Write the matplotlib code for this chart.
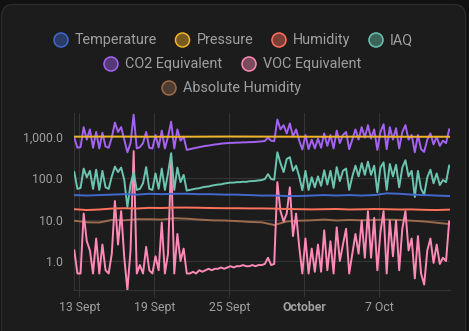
import numpy as np
import matplotlib
matplotlib.use("Agg")
from matplotlib import pyplot as plt
from matplotlib.patches import Circle, FancyBboxPatch
import matplotlib.dates as mdates

plt.rcParams['font.family'] = ['Roboto', 'DejaVu Sans']

# fast sensors, one reading every 6 hours from 12 Sept 14:24
voc = [1.8, 0.5, 0.5, 14, 3.0, 1.8, 0.5, 3.5, 0.5, 2.5, 0.6, 0.5, 1.5, 28, 2.5, 16, 1.2, 0.2,
       1.8, 450, 0.5, 0.8, 0.5, 2.2, 0.6, 0.5, 1.3, 0.6, 8.5, 0.5, 1.5, 280, 0.5, 4.5, 1.0, 2.0,
       0.5, 0.5, 0.55, 0.5, 0.6, 0.55, 0.6, 0.65, 0.6, 0.65, 0.65, 0.7, 0.65, 0.7, 0.75, 0.7,
       0.75, 0.75, 0.8, 0.75, 0.75, 0.8, 0.75, 0.8, 0.8, 0.85, 1.2, 0.8, 0.85,
       80, 16, 9, 14, 60, 4, 14, 2.2, 0.5, 3.5, 0.5, 2.0, 0.55, 2.5, 0.55, 5.5, 0.6, 3.0, 0.5,
       6.5, 1.0, 2.5, 6.0, 0.5, 1.5, 4.5, 1.5, 9.5, 1.2, 16, 1.2, 11, 0.6, 5, 16, 0.5, 9.5, 1.3,
       9.5, 0.6, 6, 16, 1.8, 3.5, 0.38, 4, 0.5, 0.27, 1.8, 3.5, 0.9, 2.5, 0.85, 1.2, 1.0, 9]
iaq = [140, 55, 58, 170, 105, 150, 55, 160, 52, 150, 60, 55, 110, 190, 140, 180, 90, 20,
       70, 140, 52, 55, 75, 185, 55, 52, 130, 55, 170, 52, 130, 400, 52, 180, 80, 120,
       50, 52, 54, 56, 57, 60, 62, 63, 66, 68, 70, 71, 74, 76, 78, 78, 80, 80, 82, 81, 84,
       85, 86, 88, 90, 95, 125, 95, 92,
       420, 230, 140, 290, 320, 150, 200, 110, 51, 150, 52, 105, 60, 110, 65, 155, 70, 150,
       58, 185, 85, 150, 170, 52, 110, 200, 110, 230, 120, 250, 120, 200, 46, 180, 240, 52,
       220, 110, 210, 60, 180, 270, 110, 150, 35, 150, 55, 40, 105, 160, 75, 130, 68, 90, 80, 200]
co2 = [950, 540, 560, 1700, 850, 1500, 540, 1300, 520, 1250, 580, 540, 950, 2200, 1300, 1700,
       850, 420, 700, 3400, 520, 560, 700, 1300, 540, 520, 1100, 550, 1400, 520, 1000, 2300,
       520, 1500, 800, 1000,
       480, 500, 520, 540, 560, 580, 600, 610, 630, 650, 660, 680, 690, 700, 710, 710, 720,
       720, 730, 730, 740, 740, 750, 760, 770, 790, 950, 800, 780,
       2600, 1500, 1900, 1200, 2100, 1000, 1500, 800, 490, 1100, 500, 850, 520, 900, 540, 1200,
       600, 1100, 520, 1400, 700, 1100, 1300, 500, 850, 1500, 850, 1700, 950, 1900, 900, 1500,
       480, 1300, 2000, 500, 1700, 850, 1600, 520, 1300, 1900, 850, 1100, 420, 1100, 500, 430,
       850, 1200, 650, 1000, 600, 800, 700, 1500]

# slow sensors, one reading per day
temperature = [39, 38, 39, 40, 41, 40, 42, 41, 42, 42, 41, 41, 40, 40, 39, 38, 38, 37, 37, 38,
               39, 38, 39, 38, 39, 43, 42, 40, 39, 38, 37]
pressure = [1002, 1004, 1006, 1008, 1006, 1003, 1001, 1000, 998, 1000, 1004, 1007, 1009, 1010,
            1008, 1006, 1005, 1003, 1001, 1000, 999, 1001, 1003, 1005, 1004, 1002, 1000, 998,
            997, 998, 1000]
humidity = [17.8, 17.0, 17.5, 18.5, 18.8, 18.5, 19.2, 19.0, 19.5, 19.5, 19.3, 19.0, 18.8, 18.8,
            18.6, 18.6, 18.4, 18.0, 17.8, 17.6, 17.8, 18.0, 17.5, 17.7, 18.0, 17.8, 17.5, 17.6,
            17.2, 17.0, 17.4]
abs_humidity = [9.4, 8.6, 8.5, 9.8, 9.6, 10.2, 10.2, 10.0, 10.8, 10.5, 10.0, 9.6, 9.5, 9.2,
                8.8, 8.6, 7.4, 9.0, 9.4, 9.6, 10.0, 9.5, 9.8, 9.6, 9.8, 10.0, 9.8, 9.4, 9.0,
                8.4, 7.8]

labels = ['Temperature', 'Pressure', 'Humidity', 'IAQ',
          'CO2 Equivalent', 'VOC Equivalent', 'Absolute Humidity']
colors = ['#4269d0', '#f0b429', '#ff725c', '#6cc5b0', '#a463f2', '#ff8ab7', '#9c6b4e']

start = np.datetime64('2024-09-12T14:24')
t_fast = start + np.arange(len(voc)) * np.timedelta64(6, 'h')
t_slow = start + np.arange(len(temperature)) * np.timedelta64(24, 'h')

series = [(t_slow, temperature), (t_slow, pressure), (t_slow, humidity), (t_fast, iaq),
          (t_fast, co2), (t_fast, voc), (t_slow, abs_humidity)]

W, H = 469, 331
fig = plt.figure(figsize=(W / 100, H / 100), dpi=100)
fig.patch.set_facecolor('#111111')

# pixel overlay for card + legend
bg = fig.add_axes([0, 0, 1, 1])
bg.set_xlim(0, W)
bg.set_ylim(H, 0)
bg.axis('off')
bg.add_patch(FancyBboxPatch((1.5, 4.5), 464, 340, boxstyle='round,pad=0,rounding_size=12',
                            facecolor='#1c1c1c', edgecolor='#2b2b2b', lw=1))

text_col = '#a0a0a0'
legend_pos = [(61, 40), (182.5, 40), (279, 40), (376, 40), (111, 64), (249, 64), (169, 88)]
for (cx, cy), lab, c in zip(legend_pos, labels, colors):
    fc = matplotlib.colors.to_rgba(c, 0.42)
    bg.add_patch(Circle((cx, cy), 7, facecolor=fc, edgecolor=c, lw=1.1))
    bg.text(cx + 14, cy, lab, color=text_col, fontsize=10.4, va='center', ha='left')

ax = fig.add_axes([74 / W, 1 - 290 / H, (450 - 74) / W, (290 - 113) / H])
ax.set_facecolor('none')
# first series ends up on top
for k, ((t, v), c) in enumerate(zip(series, colors)):
    ax.plot(t, v, color=c, lw=1.4, solid_joinstyle='round', zorder=10 - k)

ax.set_yscale('log')
ax.set_ylim(0.2, 3730)
ax.set_yticks([1, 10, 100, 1000])
ax.set_yticklabels(['1.0', '10.0', '100.0', '1,000.0'])
ax.yaxis.set_minor_locator(matplotlib.ticker.NullLocator())

xt = [np.datetime64('2024-09-13'), np.datetime64('2024-09-19'), np.datetime64('2024-09-25'),
      np.datetime64('2024-10-01'), np.datetime64('2024-10-07')]
ax.set_xticks(xt)
ax.set_xticklabels(['13 Sept', '19 Sept', '25 Sept', 'October', '7 Oct'])
ax.get_xticklabels()[3].set_fontweight('bold')
ax.set_xlim(mdates.date2num(np.datetime64('2024-09-12T13:50')),
            mdates.date2num(np.datetime64('2024-10-12T16:00')))

grid_col = '#343434'
ax.grid(True, color=grid_col, lw=0.8)
ax.set_axisbelow(True)
for s in ['top', 'right']:
    ax.spines[s].set_visible(False)
for s in ['left', 'bottom']:
    ax.spines[s].set_color(grid_col)
    ax.spines[s].set_linewidth(0.8)
ax.tick_params(axis='y', length=0, pad=8, labelsize=8.8, labelcolor=text_col)
ax.tick_params(axis='x', length=5, width=0.8, color=grid_col, pad=3, labelsize=8.8,
               labelcolor=text_col)

fig.savefig('out.png', dpi=100, facecolor=fig.get_facecolor())
